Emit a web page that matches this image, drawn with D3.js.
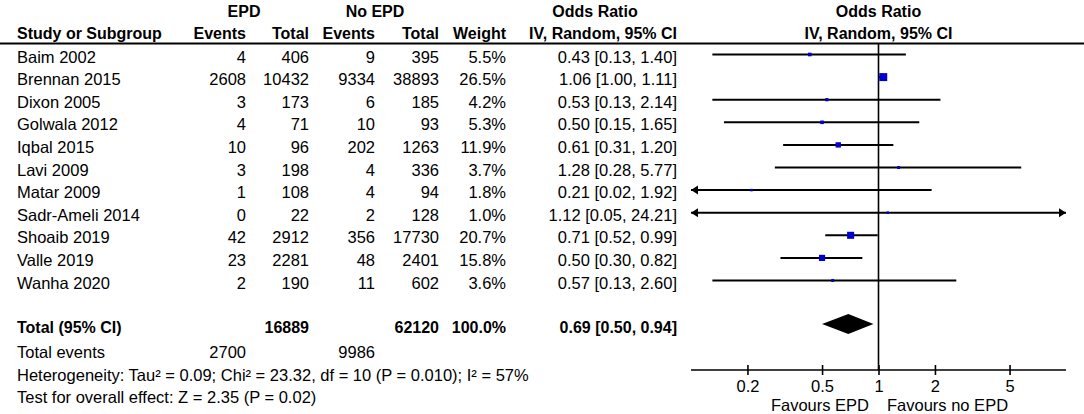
<!DOCTYPE html>
<html>
<head>
<meta charset="utf-8">
<script src="https://cdn.jsdelivr.net/npm/d3@7"></script>
<style>
  html, body { margin: 0; padding: 0; background: #fff; }
  svg { display: block; }
  text { font-family: "Liberation Sans", Arial, sans-serif; font-size: 16.5px; fill: #000; }
  .b { font-weight: bold; font-size: 16px; }
</style>
</head>
<body>
<svg id="chart" width="1084" height="414"></svg>
<script>
const studies   = ["Baim 2002","Brennan 2015","Dixon 2005","Golwala 2012","Iqbal 2015","Lavi 2009","Matar 2009","Sadr-Ameli 2014","Shoaib 2019","Valle 2019","Wanha 2020"];
const epdEvents = [4, 2608, 3, 4, 10, 3, 1, 0, 42, 23, 2];
const epdTotal  = [406, 10432, 173, 71, 96, 198, 108, 22, 2912, 2281, 190];
const noEvents  = [9, 9334, 6, 10, 202, 4, 4, 2, 356, 48, 11];
const noTotal   = [395, 38893, 185, 93, 1263, 336, 94, 128, 17730, 2401, 602];
const weights   = [5.5, 26.5, 4.2, 5.3, 11.9, 3.7, 1.8, 1.0, 20.7, 15.8, 3.6];
const oddsRatio = [0.43, 1.06, 0.53, 0.50, 0.61, 1.28, 0.21, 1.12, 0.71, 0.50, 0.57];
const ciLow     = [0.13, 1.00, 0.13, 0.15, 0.31, 0.28, 0.02, 0.05, 0.52, 0.30, 0.13];
const ciHigh    = [1.40, 1.11, 2.14, 1.65, 1.20, 5.77, 1.92, 24.21, 0.99, 0.82, 2.60];
const totalRow  = ["Total (95% CI)", 16889, 62120, 100.0, 0.69, 0.50, 0.94];
const totalEvents = [2700, 9986];
const tickValues = [0.2, 0.5, 1, 2, 5];
const footLines = ["Heterogeneity: Tau\u00B2 = 0.09; Chi\u00B2 = 23.32, df = 10 (P = 0.010); I\u00B2 = 57%",
                   "Test for overall effect: Z = 2.35 (P = 0.02)"];
const favourLabels = ["Favours EPD", "Favours no EPD"];

const svg = d3.select("#chart");
const f2 = d3.format(".2f"), f1 = d3.format(".1f");

const x = d3.scaleLog().domain([0.1, 10]).range([691, 1066]);
const y = d3.scaleLinear().domain([0, 10]).range([54.5, 280.5]);
const off = 8; // text baseline offset from row centre

const col = { name: 17, ee: 246, et: 309, ne: 375, nt: 439, w: 506, or: 677 };

function txt(xp, yp, s, anchor, bold) {
  return svg.append("text").attr("x", xp).attr("y", yp)
    .attr("text-anchor", anchor || "start").attr("class", bold ? "b" : null).text(s);
}

// headers
txt(244, 17, "EPD", "middle", true);
txt(375, 17, "No EPD", "middle", true);
txt(595, 17, "Odds Ratio", "middle", true);
txt(878.5, 17, "Odds Ratio", "middle", true);
txt(col.name, 39, "Study or Subgroup", "start", true);
txt(col.ee, 39, "Events", "end", true);
txt(col.et, 39, "Total", "end", true);
txt(col.ne, 39, "Events", "end", true);
txt(col.nt, 39, "Total", "end", true);
txt(col.w, 39, "Weight", "end", true);
txt(col.or, 39, "IV, Random, 95% CI", "end", true);
txt(878.5, 39, "IV, Random, 95% CI", "middle", true);

svg.append("line").attr("x1", 0).attr("x2", 1084).attr("y1", 43.5).attr("y2", 43.5)
  .attr("stroke", "#000").attr("stroke-width", 2);

// rows
const idx = d3.range(studies.length);
const rows = svg.append("g").selectAll("g").data(idx).join("g");
rows.append("text").attr("x", col.name).attr("y", i => y(i) + off).text(i => studies[i]);
rows.append("text").attr("x", col.ee).attr("y", i => y(i) + off).attr("text-anchor", "end").text(i => epdEvents[i]);
rows.append("text").attr("x", col.et).attr("y", i => y(i) + off).attr("text-anchor", "end").text(i => epdTotal[i]);
rows.append("text").attr("x", col.ne).attr("y", i => y(i) + off).attr("text-anchor", "end").text(i => noEvents[i]);
rows.append("text").attr("x", col.nt).attr("y", i => y(i) + off).attr("text-anchor", "end").text(i => noTotal[i]);
rows.append("text").attr("x", col.w).attr("y", i => y(i) + off).attr("text-anchor", "end").text(i => f1(weights[i]) + "%");
rows.append("text").attr("x", col.or).attr("y", i => y(i) + off).attr("text-anchor", "end")
  .text(i => `${f2(oddsRatio[i])} [${f2(ciLow[i])}, ${f2(ciHigh[i])}]`);

// null line
svg.append("line").attr("x1", x(1)).attr("x2", x(1)).attr("y1", 43.5).attr("y2", 370)
  .attr("stroke", "#000").attr("stroke-width", 1.6);

// CI lines
const [d0, d1] = x.domain();
const plot = svg.append("g");
plot.selectAll("line.ci").data(idx).join("line").attr("class", "ci")
  .attr("x1", i => x(Math.max(ciLow[i], d0))).attr("x2", i => x(Math.min(ciHigh[i], d1)))
  .attr("y1", i => y(i)).attr("y2", i => y(i))
  .attr("stroke", "#000").attr("stroke-width", 2);
// arrows
const arrows = [];
idx.forEach(i => {
  if (ciLow[i] < d0) arrows.push({ i, side: -1 });
  if (ciHigh[i] > d1) arrows.push({ i, side: 1 });
});
plot.selectAll("path.arr").data(arrows).join("path").attr("class", "arr")
  .attr("d", a => {
    const tx = a.side < 0 ? x(d0) : x(d1), yy = y(a.i);
    return `M${tx},${yy} L${tx - a.side * 7},${yy - 4.5} L${tx - a.side * 7},${yy + 4.5} Z`;
  }).attr("fill", "#000");
// squares
const sz = i => Math.max(2.5, 1.55 * Math.sqrt(weights[i]));
plot.selectAll("rect.sq").data(idx).join("rect").attr("class", "sq")
  .attr("x", i => x(oddsRatio[i]) - sz(i) / 2).attr("y", i => y(i) - sz(i) / 2)
  .attr("width", sz).attr("height", sz).attr("fill", "#0000cc");

// total row
const yTot = 324;
txt(col.name, 333, totalRow[0], "start", true);
txt(col.et, 333, totalRow[1], "end", true);
txt(col.nt, 333, totalRow[2], "end", true);
txt(col.w, 333, f1(totalRow[3]) + "%", "end", true);
txt(col.or, 333, `${f2(totalRow[4])} [${f2(totalRow[5])}, ${f2(totalRow[6])}]`, "end", true);
svg.append("path")
  .attr("d", `M${x(totalRow[5])},${yTot} L${x(totalRow[4])},${yTot - 10} L${x(totalRow[6])},${yTot} L${x(totalRow[4])},${yTot + 10} Z`)
  .attr("fill", "#000");

txt(col.name, 357.5, "Total events");
txt(col.ee, 357.5, totalEvents[0], "end");
txt(col.ne, 357.5, totalEvents[1], "end");
txt(col.name, 380.5, footLines[0]);
txt(col.name, 403, footLines[1]);

// axis
const axis = d3.axisBottom(x).tickValues(tickValues).tickSize(5).tickFormat(d3.format("~g"));
const ag = svg.append("g").attr("transform", "translate(0,370)").call(axis);
ag.select(".domain").attr("d", `M${x(d0)},0H${x(d1)}`).attr("stroke", "#000").attr("stroke-width", 1.6);
ag.selectAll(".tick line").attr("y1", -5).attr("y2", 5).attr("stroke", "#000").attr("stroke-width", 1.6);
ag.selectAll(".tick text").attr("y", 10).attr("dy", "0.71em").style("font-size", "16.5px")
  .style("font-family", '"Liberation Sans", Arial, sans-serif').attr("fill", "#000");

txt(869, 411, favourLabels[0], "end").attr("fill", "#222");
txt(887, 411, favourLabels[1], "start").attr("fill", "#222");
</script>
</body>
</html>
